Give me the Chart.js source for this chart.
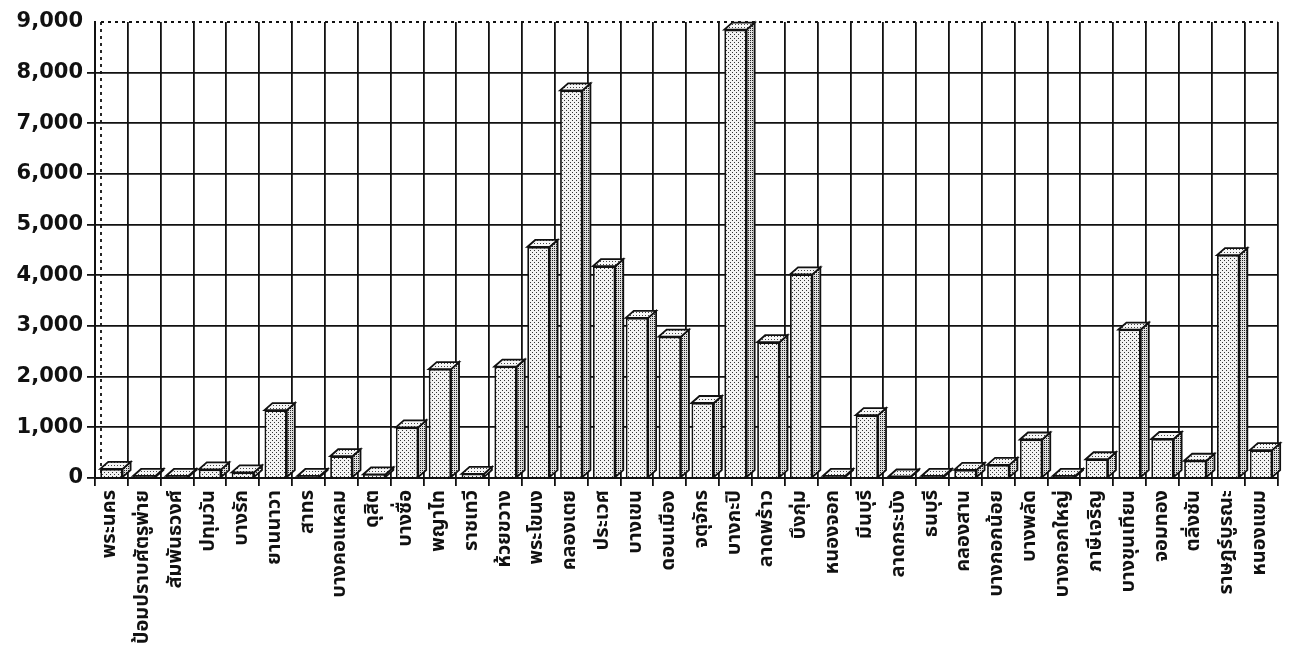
<!DOCTYPE html>
<html>
<head>
<meta charset="utf-8">
<script src="https://cdn.jsdelivr.net/npm/chart.js@4"></script>
<style>
html,body{margin:0;padding:0;background:#fff;}
#wrap{width:1289px;height:670px;position:relative;}
</style>
</head>
<body>
<div id="wrap"><canvas id="c" width="1289" height="670"></canvas></div>
<script>
const districts = ["พระนคร","ป้อมปราบศัตรูพ่าย","สัมพันธวงศ์","ปทุมวัน","บางรัก","ยานนาวา","สาทร","บางคอแหลม","ดุสิต","บางซื่อ","พญาไท","ราชเทวี","ห้วยขวาง","พระโขนง","คลองเตย","ประเวศ","บางเขน","ดอนเมือง","จตุจักร","บางกะปิ","ลาดพร้าว","บึงกุ่ม","หนองจอก","มีนบุรี","ลาดกระบัง","ธนบุรี","คลองสาน","บางกอกน้อย","บางพลัด","บางกอกใหญ่","ภาษีเจริญ","บางขุนเทียน","จอมทอง","ตลิ่งชัน","ราษฎร์บูรณะ","หนองแขม"];
const counts = [180,40,40,170,110,1340,40,430,70,1000,2150,80,2200,4560,7650,4180,3160,2790,1480,8850,2680,4020,40,1240,30,40,160,260,760,40,370,2930,770,340,4400,550];
const yTicks = [0,1000,2000,3000,4000,5000,6000,7000,8000,9000];

function makePattern(bg, dot, step){
  const t = document.createElement('canvas');
  t.width = step; t.height = step;
  const g = t.getContext('2d');
  g.fillStyle = bg; g.fillRect(0,0,step,step);
  g.fillStyle = dot; g.fillRect(0,0,1,1);
  if(step>=4){ g.fillRect(Math.floor(step/2),Math.floor(step/2),1,1); }
  return document.getElementById('c').getContext('2d').createPattern(t,'repeat');
}
const frontPat = makePattern('#f2f2f2','#333',4);
const sidePat = makePattern('#e0e0e0','#222',2);
const topPat = makePattern('#f6f6f6','#444',3);

const DX = 8, DY = 7;
const bars3d = {
  id:'bars3d',
  afterDatasetsDraw(chart){
    const ctx = chart.ctx;
    const meta = chart.getDatasetMeta(0);
    ctx.save();
    ctx.lineWidth = 1.8;
    ctx.strokeStyle = '#111';
    meta.data.forEach(b=>{
      const p = b.getProps(['x','y','base','width'],true);
      const l = p.x - p.width/2, r = p.x + p.width/2, top = p.y, base = p.base;
      ctx.beginPath();
      ctx.moveTo(r, top); ctx.lineTo(r+DX, top-DY); ctx.lineTo(r+DX, base-DY); ctx.lineTo(r, base); ctx.closePath();
      ctx.fillStyle = sidePat; ctx.fill(); ctx.stroke();
      ctx.beginPath();
      ctx.moveTo(l, top); ctx.lineTo(l+DX, top-DY); ctx.lineTo(r+DX, top-DY); ctx.lineTo(r, top); ctx.closePath();
      ctx.fillStyle = topPat; ctx.fill(); ctx.stroke();
    });
    ctx.restore();
  },
  afterDraw(chart){
    const ctx = chart.ctx, a = chart.chartArea;
    const ys = chart.scales.y;
    ctx.save();
    ctx.strokeStyle = '#111'; ctx.lineWidth = 1.8;
    ctx.setLineDash([3,4]);
    const yt = ys.getPixelForValue(9000);
    ctx.beginPath(); ctx.moveTo(a.left+6, yt); ctx.lineTo(a.right, yt); ctx.stroke();
    ctx.beginPath(); ctx.moveTo(a.left+6, yt); ctx.lineTo(a.left+6, a.bottom-4); ctx.stroke();
    ctx.restore();
  }
};

new Chart(document.getElementById('c'), {
  type:'bar',
  data:{
    labels: districts,
    datasets:[{
      data: counts,
      backgroundColor: frontPat,
      borderColor:'#111',
      borderWidth:1.8,
      barPercentage:0.68,
      categoryPercentage:1.0
    }]
  },
  options:{
    responsive:false,
    devicePixelRatio:1,
    animation:false,
    layout:{padding:{top:22,left:0,right:0,bottom:0}},
    plugins:{legend:{display:false},tooltip:{enabled:false}},
    scales:{
      x:{
        offset:true,
        grid:{offset:true,color:'#111',lineWidth:1.8,drawOnChartArea:true,tickLength:8},
        border:{display:true,color:'#111',width:2},
        ticks:{autoSkip:false,minRotation:90,maxRotation:90,padding:4,color:'#111',
          font:{family:"'Noto Sans Thai','Noto Sans','DejaVu Sans',sans-serif",size:20,weight:'bold'}},
        afterFit(s){ s.height = 192; }
      },
      y:{
        min:0,max:9000,
        afterBuildTicks(s){ s.ticks = yTicks.map(v=>({value:v})); },
        grid:{color:(c)=> c.tick && c.tick.value===9000 ? 'rgba(0,0,0,0)' : '#111',lineWidth:1.8,tickLength:8},
        border:{display:true,color:'#111',width:2},
        ticks:{color:'#111',padding:4,
          font:{family:"'DejaVu Sans',sans-serif",size:21,weight:'bold'},
          callback:(v)=>Number(v).toLocaleString('en-US')},
        afterFit(s){ s.width = 95; }
      }
    }
  },
  plugins:[bars3d]
});
</script>
</body>
</html>
